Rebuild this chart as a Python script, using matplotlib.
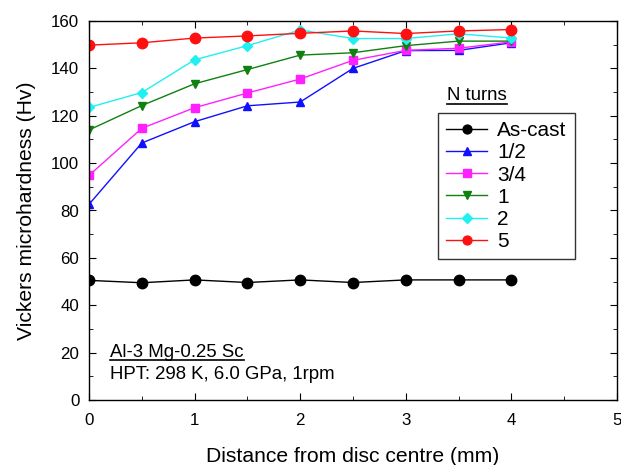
import matplotlib
matplotlib.use("Agg")
import matplotlib.pyplot as plt
from matplotlib.ticker import MultipleLocator
from matplotlib.lines import Line2D

plt.rcParams['font.family'] = ['Liberation Sans', 'DejaVu Sans']

# ===== data =====
distance = [0, 0.5, 1, 1.5, 2, 2.5, 3, 3.5, 4]
as_cast = [50.5, 49.5, 50.7, 49.6, 50.7, 49.6, 50.7, 50.7, 50.7]
turns_half = [82.6, 108.5, 117.5, 124.2, 125.8, 140, 147.5, 147.6, 150.8]
turns_3q = [94.8, 114.7, 123.4, 129.6, 135.5, 143.4, 147.6, 148.5, 151.2]
turns_1 = [114, 124.3, 133.5, 139.5, 145.6, 146.6, 149.6, 151.5, 151.5]
turns_2 = [123.5, 129.8, 143.6, 149.6, 156.2, 152.6, 152.6, 154.6, 152.8]
turns_5 = [149.8, 150.8, 152.8, 153.7, 154.8, 155.8, 154.7, 155.8, 156.4]

labels = ["As-cast", "1/2", "3/4", "1", "2", "5"]
series = [as_cast, turns_half, turns_3q, turns_1, turns_2, turns_5]
colors = ["black", "#1010ff", "#ff20ff", "#108010", "#20f0f0", "#ff1010"]
markers = ["o", "^", "s", "v", "D", "o"]
msizes = [7.5, 6, 6, 6, 5.5, 7.5]

fig = plt.figure(figsize=(6.21, 4.65), dpi=100)
ax = fig.add_axes([89 / 621, 1 - 400 / 465, (617 - 89) / 621, (400 - 21) / 465])

for lbl, ys, c, m, ms in zip(labels, series, colors, markers, msizes):
    ax.plot(distance, ys, color=c, marker=m, markersize=ms, lw=1, label=lbl,
            markeredgecolor=c, markerfacecolor=c)

ax.set_xlim(0, 5)
ax.set_ylim(0, 160)
ax.xaxis.set_major_locator(MultipleLocator(1))
ax.xaxis.set_minor_locator(MultipleLocator(0.5))
ax.yaxis.set_major_locator(MultipleLocator(20))
ax.yaxis.set_minor_locator(MultipleLocator(10))
ax.tick_params(which='both', direction='in', top=True, right=True, labelsize=12.2)
ax.tick_params(which='major', length=5)
ax.tick_params(which='minor', length=3)
ax.tick_params(axis='x', which='major', pad=9)
ax.tick_params(axis='y', which='major', pad=7)
for s in ax.spines.values():
    s.set_linewidth(1)

ax.set_xlabel("Distance from disc centre (mm)", fontsize=15.2, labelpad=14)
ax.set_ylabel("Vickers microhardness (Hv)", fontsize=15.2, labelpad=11)

leg = ax.legend(loc='upper left', bbox_to_anchor=((438 - 89) / 528, (400 - 113) / 379),
                fontsize=15, frameon=True, fancybox=False, edgecolor='black',
                handlelength=1.95, handletextpad=0.5, labelspacing=0.15,
                borderpad=0.4, borderaxespad=0, markerscale=0.85)
leg.get_frame().set_linewidth(1)

t_title = ax.text((447 - 89) / 528, (400 - 96) / 379, "N turns",
                  transform=ax.transAxes, fontsize=13.4, ha='left', va='center')
t_alloy = ax.text((110 - 89) / 528, (400 - 352) / 379, "Al-3 Mg-0.25 Sc",
                  transform=ax.transAxes, fontsize=13.4, ha='left', va='center')
ax.text((110 - 89) / 528, (400 - 374) / 379, "HPT: 298 K, 6.0 GPa, 1rpm",
        transform=ax.transAxes, fontsize=13.4, ha='left', va='center')

# underline the two headings
fig.canvas.draw()
inv = fig.transFigure.inverted()
for t in (t_title, t_alloy):
    bb = t.get_window_extent()
    (x0, y0), (x1, _) = inv.transform([(bb.x0, bb.y0 + 1), (bb.x1, bb.y0)])
    fig.add_artist(Line2D([x0, x1], [y0, y0], transform=fig.transFigure,
                          color='black', lw=1.2))

fig.savefig("out.png", dpi=100)
